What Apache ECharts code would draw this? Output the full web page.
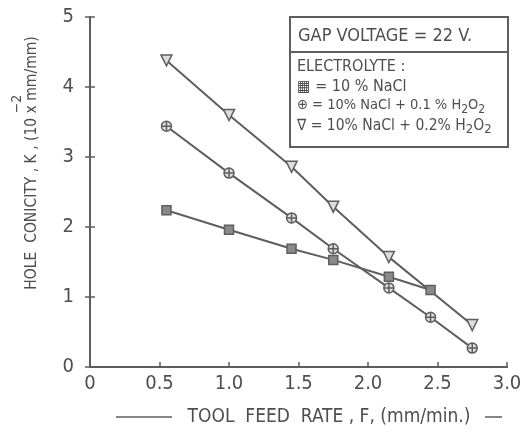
<!DOCTYPE html>
<html><head><meta charset="utf-8">
<script src="https://cdn.jsdelivr.net/npm/echarts@6/dist/echarts.min.js"></script>
<style>html,body{margin:0;padding:0;background:#fff}#c{width:525px;height:434px}</style>
</head><body><div id="c"></div>
<script>
const xTicks = ['0','0.5','1.0','1.5','2.0','2.5','3.0'];
const yTicks = ['0','1','2','3','4','5'];
const feedSquare = [0.55,1.0,1.45,1.75,2.15,2.45];
const kSquare = [2.24,1.96,1.69,1.53,1.29,1.10];
const feedCircle = [0.55,1.0,1.45,1.75,2.15,2.45,2.75];
const kCircle = [3.44,2.77,2.13,1.69,1.13,0.71,0.27];
const feedTri = [0.55,1.0,1.45,1.75,2.15,2.75];
const kTri = [4.38,3.60,2.86,2.29,1.57,0.60];
const legendTitle = 'GAP VOLTAGE = 22 V.';
const legendLines = ['ELECTROLYTE :','= 10 % NaCl','= 10% NaCl + 0.1 % H','= 10% NaCl + 0.2% H'];

const C = '#5e5e5e';
const TXT = '#4e4e4e';
const FONT = "'Liberation Sans Narrow','DejaVu Sans Condensed','DejaVu Sans',sans-serif";
const zip = (a,b)=>a.map((v,i)=>[v,b[i]]);
const chart = echarts.init(document.getElementById('c'));
const axisLine = {show:true,lineStyle:{color:C,width:2}};
const series = (name,xs,ys,symbol,size,fill)=>({
  name,type:'line',data:zip(xs,ys),symbol,symbolSize:size,
  lineStyle:{color:C,width:2},
  itemStyle:{color:fill,borderColor:C,borderWidth:1.5},
  z:3
});
chart.setOption({
  animation:false,
  backgroundColor:'#fff',
  grid:{left:90,right:18,top:17,bottom:67},
  xAxis:[{type:'value',min:0,max:3,interval:0.5,position:'bottom',
    axisLine,axisTick:{show:true,inside:true,length:5,lineStyle:{color:C,width:1.5}},
    splitLine:{show:false},
    axisLabel:{margin:7,fontSize:20,color:TXT,fontFamily:FONT,
      formatter:(v)=>xTicks[Math.round(v*2)]}},
    {type:'value',min:0,max:3,position:'top',axisLine,axisTick:{show:false},axisLabel:{show:false},splitLine:{show:false}}],
  yAxis:[{type:'value',min:0,max:5,interval:1,position:'left',
    axisLine,axisTick:{show:true,inside:true,length:5,lineStyle:{color:C,width:1.5}},
    splitLine:{show:false},
    axisLabel:{margin:16,fontSize:20,color:TXT,fontFamily:FONT,
      formatter:(v)=>yTicks[Math.round(v)]}},
    {type:'value',min:0,max:5,interval:1,position:'right',
    axisLine,axisTick:{show:true,inside:true,length:5,lineStyle:{color:C,width:1.5}},
    axisLabel:{show:false},splitLine:{show:false}}],
  series:[
    series('10% NaCl',feedSquare,kSquare,'rect',9,'#8a8a8a'),
    series('10% NaCl + 0.1% H2O2',feedCircle,kCircle,'path://M12,2 A10,10 0 1,1 11.99,2 Z M12,2 L12,22 M2,12 L22,12',10,'#ddd'),
    series('10% NaCl + 0.2% H2O2',feedTri,kTri,'path://M0,0 L20,0 L10,18 Z',11,'#ddd')
  ],
  graphic:[
    {type:'rect',shape:{x:290,y:17,width:218,height:130},style:{fill:'#fff',stroke:C,lineWidth:2},z:10},
    {type:'line',shape:{x1:290,y1:52,x2:508,y2:52},style:{stroke:C,lineWidth:2},z:11},
    {type:'text',left:298,top:27,z:12,style:{text:legendTitle,fontSize:18,fill:TXT,fontFamily:FONT}},
    {type:'text',left:297,top:59,z:12,style:{text:legendLines[0],fontSize:16,fill:TXT,fontFamily:FONT}},
    {type:'text',left:297,top:79,z:12,style:{text:'▦ '+legendLines[1],fontSize:16,fill:TXT,fontFamily:FONT}},
    {type:'text',left:297,top:98,z:12,style:{
      text:'⊕ '+legendLines[2]+'{s|2}O{s|2}',fontSize:14.5,fill:TXT,fontFamily:FONT,
      rich:{s:{fontSize:12,fill:TXT,fontFamily:FONT,padding:[8,0,0,0]}}}},
    {type:'text',left:297,top:118,z:12,style:{
      text:'∇ '+legendLines[3]+'{s|2}O{s|2}',fontSize:15.5,fill:TXT,fontFamily:FONT,
      rich:{s:{fontSize:13,fill:TXT,fontFamily:FONT,padding:[8,0,0,0]}}}},
    {type:'text',x:32,y:163,rotation:Math.PI/2,z:12,style:{
      text:'HOLE  CONICITY , K , (10 x mm/mm)',fontSize:15.5,fill:TXT,fontFamily:FONT,
      align:'center',verticalAlign:'middle'}},
    {type:'text',x:17,y:104,rotation:Math.PI/2,z:12,style:{
      text:'−2',fontSize:14,fill:TXT,fontFamily:FONT,align:'center',verticalAlign:'middle'}},
    {type:'line',shape:{x1:116,y1:417,x2:172,y2:417},style:{stroke:C,lineWidth:1.5}},
    {type:'line',shape:{x1:485,y1:417,x2:502,y2:417},style:{stroke:C,lineWidth:1.5}},
    {type:'text',x:329,y:417,z:12,style:{text:'TOOL  FEED  RATE , F, (mm/min.)',fontSize:19,fill:TXT,fontFamily:FONT,align:'center',verticalAlign:'middle'}}
  ]
});
</script></body></html>
